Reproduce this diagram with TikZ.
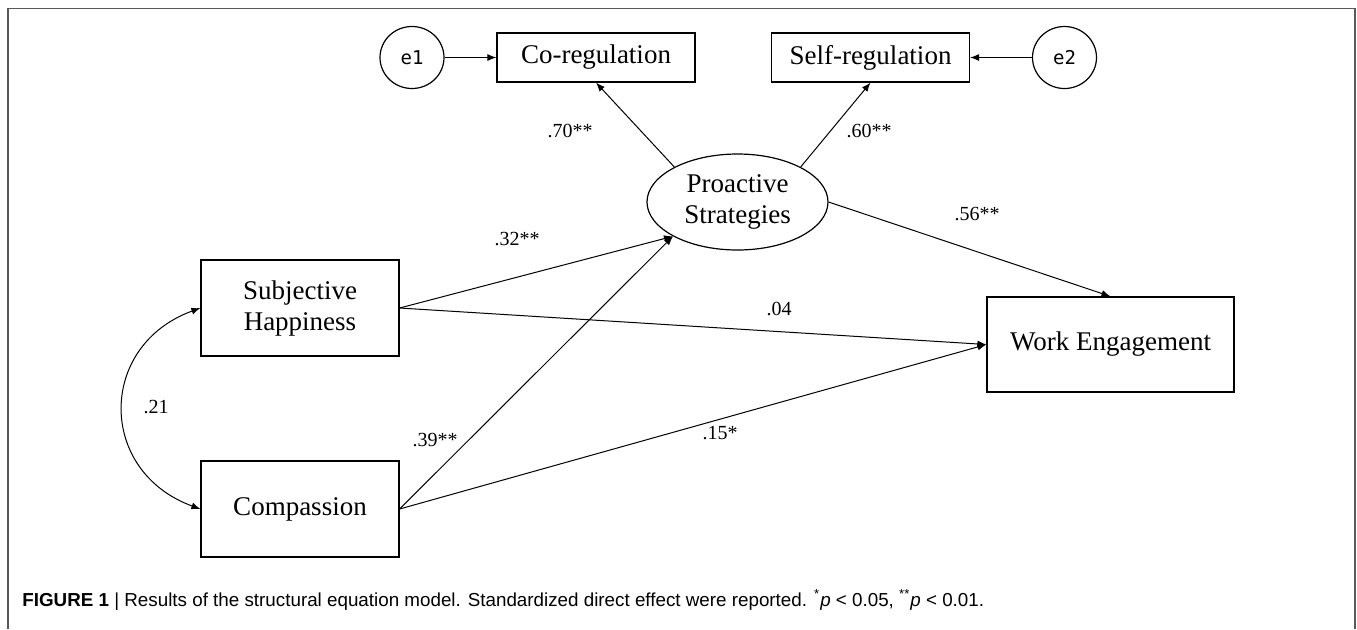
\documentclass[tikz,border=0pt]{standalone}
\usepackage{fontspec}
\setmainfont{Liberation Serif}
\newfontfamily\errfont{DejaVu Sans Mono}
\newfontfamily\capfont{Liberation Sans}
\usetikzlibrary{arrows.meta,shapes.geometric}

\begin{document}
\begin{tikzpicture}[x=0.5pt,y=0.5pt]
\tikzstyle{every node}=[font=\fontsize{13.5}{15.5}\selectfont]
\tikzstyle{obs}=[draw,line width=0.6pt,rectangle,minimum width=99pt,minimum height=24.5pt,inner sep=1pt,align=center]
\tikzstyle{big}=[obs,minimum height=48pt]
\tikzstyle{err}=[draw,line width=0.6pt,ellipse,minimum width=32pt,minimum height=31pt,inner sep=0pt,font=\errfont\fontsize{9.5}{11}\selectfont]
\tikzstyle{coef}=[inner sep=0pt,font=\fontsize{10}{12}\selectfont]
\tikzstyle{path}=[line width=0.5pt,-{Latex[length=4.5pt,width=3.5pt]}]
\tikzstyle{covar}=[line width=0.5pt,{Latex[length=4.5pt,width=3.5pt]}-{Latex[length=4.5pt,width=3.5pt]}]
\useasboundingbox (0,0) rectangle (1357,-629);
    % frame
    \draw [line width=0.8pt,black!65] (8,-629) -- (8,-8.5) -- (1355,-8.5) -- (1355,-629);
    % measurement part
    \node [err] (e1) at (412,-57.5) {e1};
    \node [err] (e2) at (1064.5,-57.5) {e2};
    \node [obs] (cr) at (596,-57.5) {Co-regulation};
    \node [obs] (sr) at (870.5,-57.5) {Self-regulation};
    \node [draw,line width=0.6pt,ellipse,minimum width=90.5pt,minimum height=48pt,inner sep=0pt,align=center] (ps) at (737.5,-202) {Proactive\\Strategies};
    % structural part
    \node [big] (sh) at (300,-308) {Subjective\\Happiness};
    \node [big] (cp) at (300,-509) {Compassion};
    \node [big,minimum width=123.5pt,minimum height=47.5pt] (we) at (1110.5,-344.5) {Work Engagement};
    \draw [path] (e1) to (cr);
    \draw [path] (e2) to (sr);
    \draw [path] (ps.151) to (cr.south);
    \draw [path] (ps.29) to (sr.south);
    \draw [path] (ps.east) to (we.north);
    \draw [path] (sh.east) to (ps.208);
    \draw [path] (cp.east) to (ps.208);
    \draw [path] (sh.east) to (we.west);
    \draw [path] (cp.east) to (we.west);
    \draw [covar] (sh.west) to [out=200,in=160,looseness=1.4] (cp.west);
    % coefficients
    \node [coef] (c70) at (570,-131) {.70**};
    \node [coef] (c60) at (869,-131) {.60**};
    \node [coef] (c56) at (977,-214) {.56**};
    \node [coef] (c32) at (517,-239) {.32**};
    \node [coef] (c04) at (779,-309) {.04};
    \node [coef] (c21) at (156,-407) {.21};
    \node [coef] (c39) at (435,-440) {.39**};
    \node [coef] (c15) at (720,-433) {.15*};
    % caption
    \node [anchor=west,inner sep=0pt,font=\capfont\fontsize{9.4}{11}\selectfont] (cap) at (22,-600)
      {\textbf{FIGURE 1} | Results of the structural equation model. Standardized direct effect were reported. \textsuperscript{*}\textit{p} < 0.05, \textsuperscript{**}\textit{p} < 0.01.};
\end{tikzpicture}
\end{document}
